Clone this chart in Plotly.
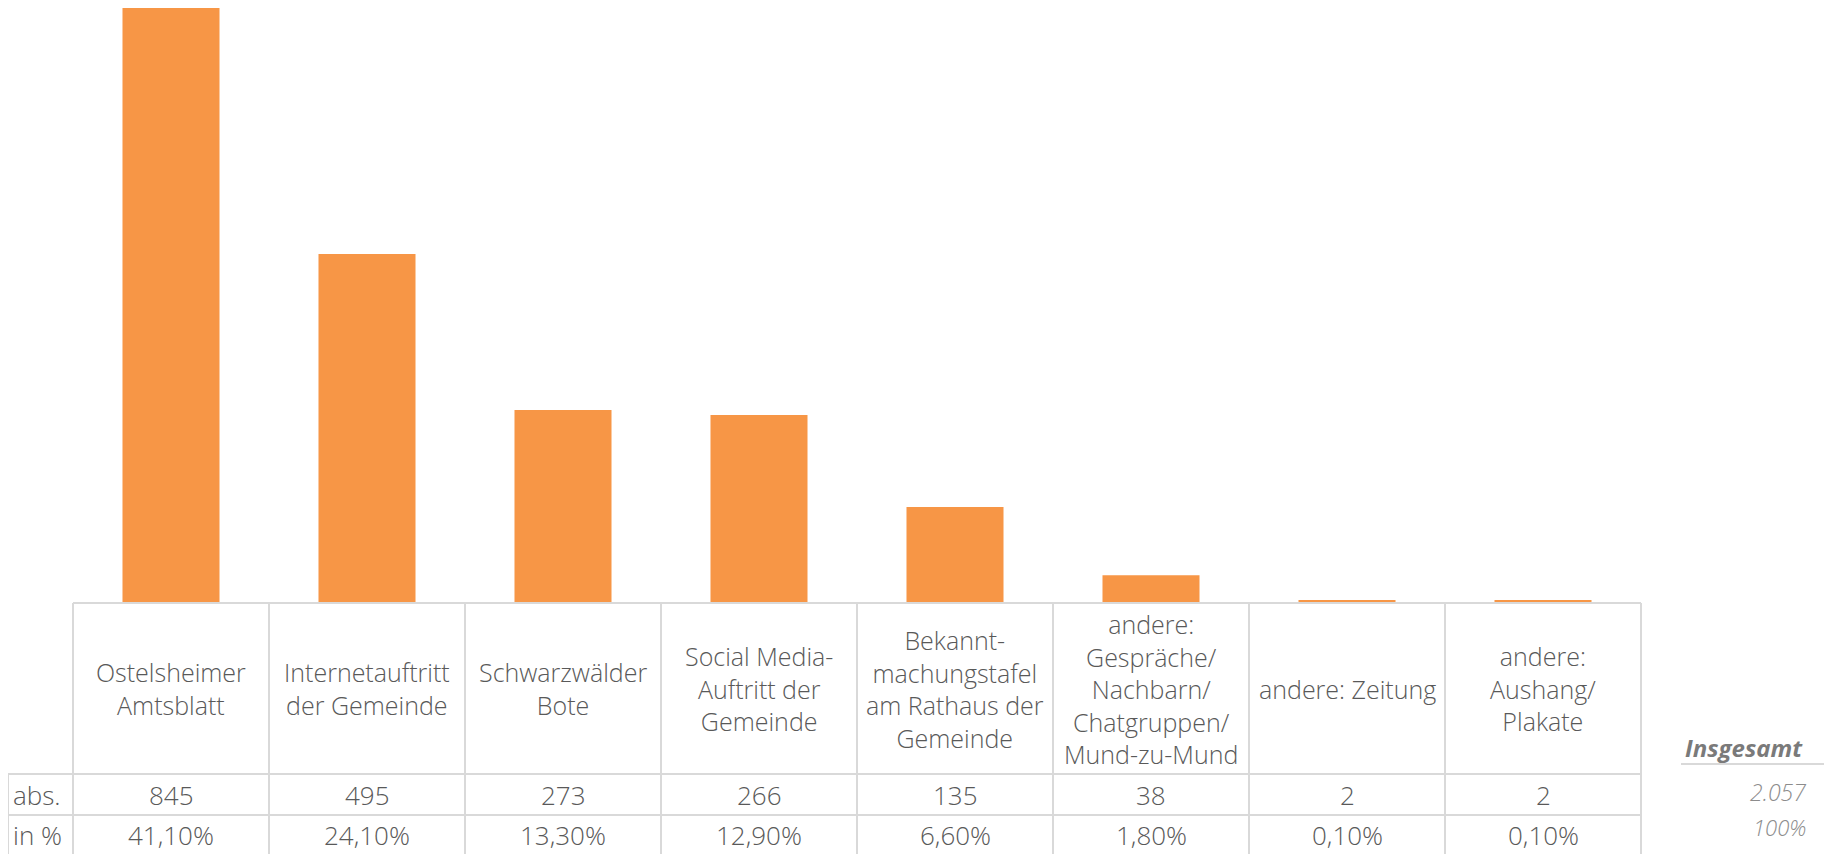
import plotly.graph_objects as go

categories = [
    "Ostelsheimer<br>Amtsblatt",
    "Internetauftritt<br>der Gemeinde",
    "Schwarzwälder<br>Bote",
    "Social Media-<br>Auftritt der<br>Gemeinde",
    "Bekannt-<br>machungstafel<br>am Rathaus der<br>Gemeinde",
    "andere:<br>Gespräche/<br>Nachbarn/<br>Chatgruppen/<br>Mund-zu-Mund",
    "andere: Zeitung",
    "andere:<br>Aushang/<br>Plakate",
]
abs_values = [845, 495, 273, 266, 135, 38, 2, 2]
pct_labels = ["41,10%", "24,10%", "13,30%", "12,90%", "6,60%", "1,80%", "0,10%", "0,10%"]
row_labels = ["abs.", "in %"]
total_title = "Insgesamt"
total_abs = "2.057"
total_pct = "100%"

OFF = 8                      # page body margin
W, H = 1832 - OFF, 854 - OFF
# page-pixel layout
PL, PR, PT, PB = 73, 1641, 8, 602
L, R, T = PL - OFF, (W + OFF) - PR, PT - OFF
B = (H + OFF) - PB
PH = PB - PT
PW = PR - PL
n = len(categories)

def py(p):  # page pixel y -> paper y
    return (PB - p) / PH

def px(p):  # page pixel x -> paper x
    return (p - PL) / PW

FONT = "Open Sans"
TXT = "#595959"
GRID = "#d9d9d9"

fig = go.Figure()
fig.add_trace(go.Bar(
    x=list(range(n)), y=abs_values,
    marker=dict(color="#F79646", line=dict(width=0)),
    width=0.495, hoverinfo="skip",
))

shapes = []
def line(x0, y0, x1, y1):
    shapes.append(dict(type="line", xref="paper", yref="paper",
                       x0=x0, y0=y0, x1=x1, y1=y1,
                       line=dict(color=GRID, width=2), layer="above"))

y_top, y_h, y_a, y_bot = 603, 774, 815, 860
line(0, py(y_top), 1, py(y_top))
line(px(8), py(y_h), 1, py(y_h))
line(px(8), py(y_a), 1, py(y_a))
for k in range(n + 1):
    line(k / n, py(y_top), k / n, py(y_bot))
line(px(8), py(y_h), px(8), py(y_bot))
line(px(1681), py(764), px(1826), py(764))

ann = []
fnt_h = dict(family=FONT, size=25, color=TXT, weight=300)
fnt_n = dict(family=FONT, size=26, color=TXT, weight=300)
for i, c in enumerate(categories):
    ann.append(dict(x=i, xref="x", y=py(688.5), yref="paper", text=c,
                    showarrow=False, font=fnt_h, align="center",
                    xanchor="center", yanchor="middle"))
    ann.append(dict(x=i, xref="x", y=py(795), yref="paper", text=str(abs_values[i]),
                    showarrow=False, font=fnt_n, xanchor="center", yanchor="middle"))
    ann.append(dict(x=i, xref="x", y=py(835), yref="paper", text=pct_labels[i],
                    showarrow=False, font=fnt_n, xanchor="center", yanchor="middle"))
ann.append(dict(x=px(11), xref="paper", y=py(795), yref="paper", text=row_labels[0],
                showarrow=False, font=fnt_n, xanchor="left", yanchor="middle"))
ann.append(dict(x=px(11), xref="paper", y=py(835), yref="paper", text=row_labels[1],
                showarrow=False, font=fnt_n, xanchor="left", yanchor="middle"))
ann.append(dict(x=px(1744), xref="paper", y=py(747), yref="paper",
                text="<b><i>" + total_title + "</i></b>", showarrow=False,
                font=dict(family=FONT, size=24, color="#7a7a7a"),
                xanchor="center", yanchor="middle"))
ann.append(dict(x=px(1808), xref="paper", y=py(792), yref="paper",
                text="<i>" + total_abs + "</i>", showarrow=False,
                font=dict(family=FONT, size=23, color="#8c8c8c", weight=300),
                xanchor="right", yanchor="middle"))
ann.append(dict(x=px(1808), xref="paper", y=py(827), yref="paper",
                text="<i>" + total_pct + "</i>", showarrow=False,
                font=dict(family=FONT, size=22, color="#8c8c8c", weight=300),
                xanchor="right", yanchor="middle"))

fig.update_layout(
    width=W, height=H,
    margin=dict(l=L, r=R, t=T, b=B),
    paper_bgcolor="white", plot_bgcolor="white",
    showlegend=False,
    xaxis=dict(range=[-0.5, n - 0.5], showticklabels=False, ticks="",
               showgrid=False, zeroline=False, showline=False),
    yaxis=dict(range=[0, 845 * PH / 594], showticklabels=False, ticks="",
               showgrid=False, zeroline=False, showline=False),
    shapes=shapes, annotations=ann,
    font=dict(family=FONT, color=TXT),
)
fig.write_html("out.html")
